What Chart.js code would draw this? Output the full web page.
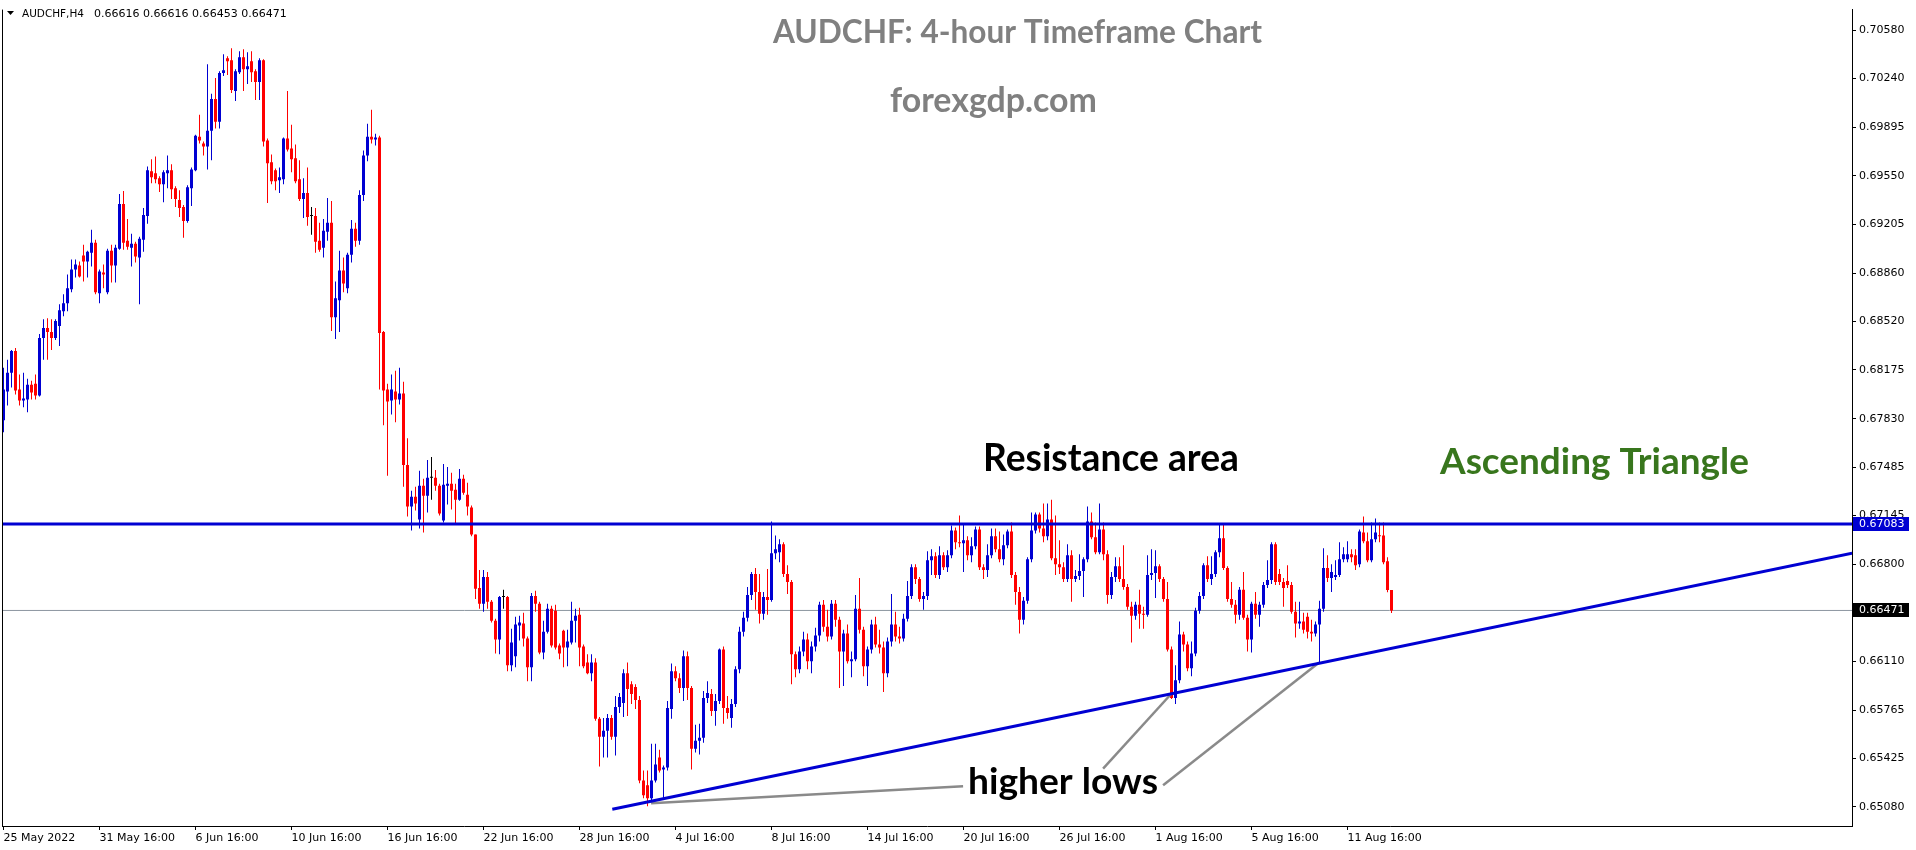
<!DOCTYPE html>
<html>
<head>
<meta charset="utf-8">
<title>AUDCHF H4</title>
<script src="https://cdn.jsdelivr.net/npm/chart.js@4.4.0/dist/chart.umd.min.js"></script>
<style>
  html, body { margin: 0; padding: 0; background: #fff; }
  #wrap { position: relative; width: 1916px; height: 850px; }
</style>
</head>
<body>
<div id="wrap"><canvas id="myChart"></canvas></div>
<script>
'use strict';

//Chart data (H4 candles)
var symbol = 'AUDCHF,H4';

var opens = [
  0.67818, 0.68022, 0.68156, 0.68310, 0.68036, 0.67959, 0.67966, 0.68071, 0.68078, 0.67994, 0.68402, 0.68472,
  0.68444, 0.68402, 0.68486, 0.68591, 0.68648, 0.68746, 0.68887, 0.68915, 0.68985, 0.68943, 0.69006, 0.69076,
  0.68718, 0.68865, 0.68725, 0.69020, 0.68915, 0.69034, 0.69350, 0.69090, 0.69041, 0.69069, 0.68971, 0.69097,
  0.69266, 0.69582, 0.69568, 0.69533, 0.69491, 0.69568, 0.69589, 0.69463, 0.69379, 0.69329, 0.69231, 0.69463,
  0.69589, 0.69828, 0.69779, 0.69758, 0.69870, 0.70095, 0.69934, 0.70278, 0.70384, 0.70369, 0.70152, 0.70285,
  0.70391, 0.70306, 0.70362, 0.70292, 0.70215, 0.70369, 0.69800, 0.69646, 0.69589, 0.69519, 0.69526, 0.69814,
  0.69744, 0.69674, 0.69526, 0.69386, 0.69428, 0.69266, 0.69266, 0.69090, 0.69041, 0.69154, 0.69217, 0.68549,
  0.68669, 0.68880, 0.68753, 0.68992, 0.69175, 0.69090, 0.69414, 0.69695, 0.69828, 0.69807, 0.69821, 0.68444,
  0.68036, 0.67959, 0.68022, 0.67966, 0.68008, 0.67502, 0.67207, 0.67277, 0.67116, 0.67354, 0.67284, 0.67411,
  0.67411, 0.67354, 0.67108, 0.67354, 0.67369, 0.67326, 0.67256, 0.67404, 0.67291, 0.67200, 0.67010, 0.66631,
  0.66518, 0.66708, 0.66532, 0.66399, 0.66265, 0.66567, 0.66567, 0.66082, 0.66146, 0.66364, 0.66378, 0.66272,
  0.66068, 0.66574, 0.66518, 0.66174, 0.66321, 0.66483, 0.66469, 0.66223, 0.66328, 0.66209, 0.66244, 0.66399,
  0.66441, 0.66216, 0.66103, 0.66026, 0.66103, 0.65703, 0.65576, 0.65619, 0.65710, 0.65576, 0.65787, 0.65815,
  0.66026, 0.65949, 0.65928, 0.65836, 0.65267, 0.65232, 0.65141, 0.65267, 0.65429, 0.65344, 0.65359, 0.65773,
  0.66040, 0.65991, 0.65921, 0.66146, 0.65921, 0.65492, 0.65548, 0.65569, 0.65850, 0.65879, 0.65759, 0.65829,
  0.66195, 0.65780, 0.65710, 0.65808, 0.66054, 0.66321, 0.66420, 0.66581, 0.66729, 0.66602, 0.66448, 0.66567,
  0.66546, 0.66877, 0.66884, 0.66940, 0.66729, 0.66673, 0.66160, 0.66054, 0.66181, 0.66265, 0.66111, 0.66216,
  0.66293, 0.66511, 0.66356, 0.66286, 0.66518, 0.66406, 0.66181, 0.66307, 0.66111, 0.66125, 0.66483, 0.66335,
  0.66075, 0.66195, 0.66371, 0.66230, 0.66209, 0.66026, 0.66251, 0.66371, 0.66286, 0.66272, 0.66413, 0.66574,
  0.66778, 0.66694, 0.66553, 0.66574, 0.66827, 0.66855, 0.66722, 0.66863, 0.66778, 0.66863, 0.67038, 0.66954,
  0.66947, 0.66968, 0.66863, 0.66926, 0.67045, 0.66778, 0.66757, 0.66863, 0.66996, 0.66905, 0.66834, 0.66933,
  0.67031, 0.66722, 0.66602, 0.66406, 0.66539, 0.66834, 0.67038, 0.67151, 0.67052, 0.66996, 0.67116, 0.66841,
  0.66799, 0.66778, 0.66694, 0.66863, 0.66694, 0.66715, 0.66750, 0.66834, 0.67101, 0.66989, 0.66884, 0.67045,
  0.66870, 0.66581, 0.66708, 0.66785, 0.66694, 0.66638, 0.66497, 0.66434, 0.66511, 0.66448, 0.66441, 0.66722,
  0.66736, 0.66785, 0.66694, 0.66553, 0.66195, 0.65850, 0.65977, 0.66300, 0.66230, 0.66061, 0.66167, 0.66469,
  0.66574, 0.66792, 0.66694, 0.66729, 0.66884, 0.66982, 0.66771, 0.66553, 0.66511, 0.66441, 0.66617, 0.66420,
  0.66265, 0.66518, 0.66441, 0.66511, 0.66652, 0.66687, 0.66940, 0.66729, 0.66673, 0.66680, 0.66652, 0.66462,
  0.66378, 0.66392, 0.66427, 0.66321, 0.66307, 0.66371, 0.66483, 0.66771, 0.66701, 0.66708, 0.66722, 0.66834,
  0.66834, 0.66870, 0.66863, 0.66799, 0.67024, 0.66961, 0.66827, 0.66975, 0.67003, 0.67003, 0.66820, 0.66616
];

var highs = [
  0.68191, 0.68247, 0.68317, 0.68331, 0.68142, 0.68156, 0.68113, 0.68099, 0.68142, 0.68430, 0.68535, 0.68542,
  0.68535, 0.68535, 0.68641, 0.68711, 0.68851, 0.68957, 0.68957, 0.68943, 0.69062, 0.69020, 0.69168, 0.69097,
  0.68887, 0.68922, 0.69034, 0.69062, 0.69062, 0.69421, 0.69442, 0.69245, 0.69140, 0.69083, 0.69119, 0.69322,
  0.69617, 0.69667, 0.69688, 0.69547, 0.69589, 0.69695, 0.69632, 0.69477, 0.69449, 0.69343, 0.69484, 0.69610,
  0.69842, 0.69983, 0.69793, 0.70341, 0.70131, 0.70243, 0.70292, 0.70412, 0.70398, 0.70454, 0.70306, 0.70433,
  0.70447, 0.70426, 0.70433, 0.70306, 0.70384, 0.70377, 0.69814, 0.69702, 0.69603, 0.69610, 0.69821, 0.70152,
  0.69913, 0.69772, 0.69660, 0.69533, 0.69610, 0.69329, 0.69322, 0.69217, 0.69245, 0.69393, 0.69372, 0.68802,
  0.69020, 0.68971, 0.69006, 0.69238, 0.69217, 0.69449, 0.69730, 0.69920, 0.70018, 0.69849, 0.69835, 0.68451,
  0.68078, 0.68142, 0.68170, 0.68191, 0.68092, 0.67692, 0.67319, 0.67347, 0.67460, 0.67404, 0.67537, 0.67558,
  0.67467, 0.67369, 0.67509, 0.67488, 0.67446, 0.67369, 0.67474, 0.67432, 0.67376, 0.67214, 0.67010, 0.66757,
  0.66757, 0.66743, 0.66546, 0.66413, 0.66574, 0.66617, 0.66574, 0.66342, 0.66427, 0.66434, 0.66455, 0.66286,
  0.66595, 0.66610, 0.66532, 0.66399, 0.66518, 0.66504, 0.66511, 0.66237, 0.66335, 0.66335, 0.66532, 0.66483,
  0.66490, 0.66230, 0.66160, 0.66160, 0.66132, 0.65717, 0.65710, 0.65738, 0.65731, 0.65865, 0.65886, 0.66054,
  0.66103, 0.65970, 0.65949, 0.65865, 0.65337, 0.65337, 0.65527, 0.65527, 0.65485, 0.65373, 0.65829, 0.66096,
  0.66075, 0.66026, 0.66188, 0.66181, 0.65935, 0.65661, 0.65668, 0.65900, 0.65970, 0.65914, 0.65879, 0.66202,
  0.66216, 0.65865, 0.65843, 0.66075, 0.66356, 0.66462, 0.66638, 0.66743, 0.66771, 0.66729, 0.66602, 0.66764,
  0.67101, 0.67003, 0.66975, 0.66954, 0.66792, 0.66687, 0.66181, 0.66216, 0.66321, 0.66307, 0.66251, 0.66349,
  0.66532, 0.66546, 0.66476, 0.66546, 0.66546, 0.66427, 0.66335, 0.66371, 0.66181, 0.66581, 0.66701, 0.66356,
  0.66216, 0.66406, 0.66427, 0.66335, 0.66251, 0.66279, 0.66588, 0.66462, 0.66356, 0.66448, 0.66680, 0.66799,
  0.66799, 0.66708, 0.66602, 0.66891, 0.66905, 0.66884, 0.66926, 0.66884, 0.66898, 0.67073, 0.67059, 0.67144,
  0.67087, 0.66996, 0.66989, 0.67066, 0.67066, 0.66799, 0.66940, 0.67052, 0.67052, 0.67031, 0.67010, 0.67045,
  0.67094, 0.66743, 0.66638, 0.66567, 0.66848, 0.67165, 0.67165, 0.67165, 0.67228, 0.67228, 0.67256, 0.67144,
  0.66968, 0.66813, 0.66940, 0.66898, 0.66757, 0.66870, 0.66848, 0.67207, 0.67165, 0.67094, 0.67228, 0.67094,
  0.66898, 0.66743, 0.66848, 0.66848, 0.66933, 0.66659, 0.66532, 0.66532, 0.66617, 0.66497, 0.66863, 0.66905,
  0.66898, 0.66799, 0.66708, 0.66673, 0.66216, 0.66082, 0.66392, 0.66321, 0.66251, 0.66251, 0.66490, 0.66602,
  0.66806, 0.66855, 0.66855, 0.66898, 0.67087, 0.67080, 0.66785, 0.66673, 0.66546, 0.66638, 0.66743, 0.66441,
  0.66532, 0.66602, 0.66532, 0.66673, 0.66827, 0.66954, 0.66954, 0.66764, 0.66701, 0.66792, 0.66673, 0.66532,
  0.66532, 0.66455, 0.66455, 0.66406, 0.66392, 0.66539, 0.66912, 0.66863, 0.66799, 0.66827, 0.66954, 0.66919,
  0.66961, 0.66905, 0.66905, 0.67045, 0.67137, 0.67024, 0.67094, 0.67123, 0.67094, 0.67094, 0.66848, 0.66616
];

var lows = [
  0.67734, 0.67924, 0.68050, 0.68001, 0.67924, 0.67910, 0.67875, 0.67966, 0.67966, 0.67987, 0.68247, 0.68247,
  0.68317, 0.68388, 0.68345, 0.68556, 0.68591, 0.68725, 0.68830, 0.68830, 0.68802, 0.68830, 0.68908, 0.68711,
  0.68648, 0.68753, 0.68711, 0.68795, 0.68795, 0.69027, 0.69027, 0.69027, 0.68908, 0.68936, 0.68641, 0.69013,
  0.69210, 0.69498, 0.69498, 0.69435, 0.69364, 0.69463, 0.69386, 0.69329, 0.69259, 0.69111, 0.69217, 0.69336,
  0.69582, 0.69779, 0.69695, 0.69596, 0.69660, 0.69885, 0.69885, 0.70257, 0.70264, 0.70138, 0.70081, 0.70271,
  0.70152, 0.70201, 0.70215, 0.70088, 0.70088, 0.69758, 0.69357, 0.69491, 0.69449, 0.69428, 0.69491, 0.69723,
  0.69575, 0.69498, 0.69372, 0.69252, 0.69196, 0.69133, 0.69006, 0.69013, 0.68971, 0.69090, 0.68451, 0.68395,
  0.68444, 0.68725, 0.68718, 0.68936, 0.69048, 0.69062, 0.69372, 0.69653, 0.69779, 0.69765, 0.68036, 0.67783,
  0.67425, 0.67860, 0.67804, 0.67931, 0.67347, 0.67137, 0.67038, 0.67179, 0.67052, 0.67024, 0.67165, 0.67256,
  0.67319, 0.67144, 0.67094, 0.67221, 0.67186, 0.67087, 0.67249, 0.67291, 0.67144, 0.66996, 0.66553, 0.66483,
  0.66462, 0.66483, 0.66385, 0.66167, 0.66160, 0.66483, 0.66040, 0.66040, 0.66068, 0.66258, 0.66216, 0.65970,
  0.65970, 0.66462, 0.66160, 0.66125, 0.66307, 0.66209, 0.66195, 0.66125, 0.66068, 0.66075, 0.66230, 0.66244,
  0.66075, 0.66061, 0.66019, 0.65970, 0.65689, 0.65366, 0.65429, 0.65429, 0.65555, 0.65443, 0.65745, 0.65717,
  0.65724, 0.65808, 0.65773, 0.65246, 0.65141, 0.65084, 0.65127, 0.65253, 0.65323, 0.65141, 0.65337, 0.65703,
  0.65970, 0.65886, 0.65829, 0.65836, 0.65344, 0.65464, 0.65450, 0.65534, 0.65815, 0.65724, 0.65654, 0.65808,
  0.65668, 0.65703, 0.65640, 0.65787, 0.66026, 0.66286, 0.66392, 0.66546, 0.66476, 0.66378, 0.66406, 0.66441,
  0.66532, 0.66834, 0.66813, 0.66708, 0.66588, 0.65949, 0.65998, 0.66026, 0.66146, 0.66054, 0.66026, 0.66181,
  0.66251, 0.66321, 0.66251, 0.66265, 0.66356, 0.65921, 0.65935, 0.66096, 0.65998, 0.66111, 0.66307, 0.66005,
  0.65935, 0.66167, 0.66209, 0.66167, 0.65893, 0.65998, 0.66216, 0.66251, 0.66237, 0.66251, 0.66392, 0.66553,
  0.66659, 0.66532, 0.66476, 0.66546, 0.66722, 0.66701, 0.66694, 0.66757, 0.66743, 0.66841, 0.66905, 0.66919,
  0.66743, 0.66827, 0.66813, 0.66905, 0.66757, 0.66694, 0.66708, 0.66841, 0.66884, 0.66813, 0.66792, 0.66912,
  0.66701, 0.66511, 0.66307, 0.66371, 0.66518, 0.66813, 0.67017, 0.67024, 0.66954, 0.66968, 0.66827, 0.66722,
  0.66729, 0.66673, 0.66673, 0.66532, 0.66673, 0.66687, 0.66567, 0.66813, 0.66975, 0.66870, 0.66870, 0.66827,
  0.66518, 0.66553, 0.66673, 0.66673, 0.66617, 0.66476, 0.66244, 0.66406, 0.66342, 0.66342, 0.66427, 0.66687,
  0.66560, 0.66673, 0.66532, 0.66181, 0.65843, 0.65808, 0.65956, 0.66181, 0.66040, 0.66005, 0.66146, 0.66448,
  0.66553, 0.66673, 0.66652, 0.66708, 0.66848, 0.66757, 0.66532, 0.66490, 0.66378, 0.66406, 0.66406, 0.66181,
  0.66174, 0.66413, 0.66356, 0.66490, 0.66631, 0.66659, 0.66652, 0.66652, 0.66497, 0.66631, 0.66448, 0.66279,
  0.66342, 0.66307, 0.66272, 0.66251, 0.66286, 0.66096, 0.66462, 0.66673, 0.66602, 0.66687, 0.66708, 0.66813,
  0.66813, 0.66813, 0.66757, 0.66778, 0.66947, 0.66813, 0.66813, 0.66954, 0.66954, 0.66799, 0.66600, 0.66453
];

var closes = [
  0.68036, 0.68156, 0.68310, 0.68029, 0.67959, 0.67973, 0.68071, 0.68015, 0.67994, 0.68402, 0.68472, 0.68444,
  0.68402, 0.68521, 0.68598, 0.68648, 0.68753, 0.68887, 0.68922, 0.68837, 0.68943, 0.69013, 0.69076, 0.68725,
  0.68873, 0.68851, 0.69020, 0.68915, 0.69041, 0.69350, 0.69076, 0.69048, 0.69069, 0.68978, 0.69104, 0.69273,
  0.69589, 0.69540, 0.69526, 0.69491, 0.69575, 0.69589, 0.69456, 0.69386, 0.69322, 0.69231, 0.69470, 0.69596,
  0.69835, 0.69800, 0.69758, 0.69870, 0.70095, 0.69934, 0.70278, 0.70299, 0.70362, 0.70159, 0.70292, 0.70391,
  0.70306, 0.70327, 0.70285, 0.70215, 0.70369, 0.69793, 0.69639, 0.69512, 0.69512, 0.69540, 0.69814, 0.69737,
  0.69667, 0.69512, 0.69386, 0.69428, 0.69259, 0.69266, 0.69083, 0.69027, 0.69161, 0.69217, 0.68549, 0.68683,
  0.68880, 0.68788, 0.68992, 0.69175, 0.69090, 0.69414, 0.69695, 0.69828, 0.69807, 0.69821, 0.68437, 0.68029,
  0.67952, 0.68036, 0.67966, 0.68008, 0.67502, 0.67207, 0.67277, 0.67228, 0.67354, 0.67284, 0.67411, 0.67411,
  0.67354, 0.67158, 0.67362, 0.67369, 0.67319, 0.67256, 0.67404, 0.67305, 0.67207, 0.67010, 0.66624, 0.66518,
  0.66708, 0.66532, 0.66399, 0.66265, 0.66567, 0.66567, 0.66082, 0.66244, 0.66371, 0.66385, 0.66272, 0.66068,
  0.66574, 0.66518, 0.66174, 0.66321, 0.66483, 0.66223, 0.66209, 0.66167, 0.66209, 0.66251, 0.66399, 0.66434,
  0.66209, 0.66075, 0.66026, 0.66103, 0.65703, 0.65576, 0.65619, 0.65710, 0.65576, 0.65787, 0.65858, 0.66026,
  0.65914, 0.65879, 0.65836, 0.65267, 0.65162, 0.65141, 0.65267, 0.65380, 0.65337, 0.65359, 0.65780, 0.66040,
  0.65991, 0.65921, 0.66146, 0.65921, 0.65492, 0.65548, 0.65569, 0.65850, 0.65886, 0.65759, 0.65829, 0.66195,
  0.65780, 0.65745, 0.65808, 0.66054, 0.66321, 0.66420, 0.66581, 0.66729, 0.66602, 0.66448, 0.66567, 0.66546,
  0.66877, 0.66905, 0.66940, 0.66729, 0.66673, 0.66160, 0.66054, 0.66181, 0.66265, 0.66111, 0.66216, 0.66293,
  0.66511, 0.66356, 0.66286, 0.66518, 0.66406, 0.66181, 0.66307, 0.66111, 0.66125, 0.66483, 0.66335, 0.66075,
  0.66195, 0.66371, 0.66230, 0.66209, 0.66026, 0.66251, 0.66371, 0.66286, 0.66272, 0.66413, 0.66574, 0.66778,
  0.66694, 0.66553, 0.66574, 0.66827, 0.66855, 0.66722, 0.66863, 0.66778, 0.66863, 0.67038, 0.66954, 0.66947,
  0.66968, 0.66863, 0.66926, 0.67045, 0.66778, 0.66757, 0.66863, 0.66996, 0.66905, 0.66834, 0.66933, 0.67031,
  0.66722, 0.66602, 0.66406, 0.66539, 0.66834, 0.67038, 0.67151, 0.67052, 0.66996, 0.67116, 0.66841, 0.66799,
  0.66778, 0.66694, 0.66863, 0.66694, 0.66715, 0.66750, 0.66834, 0.67101, 0.66989, 0.66884, 0.67045, 0.66870,
  0.66581, 0.66708, 0.66785, 0.66694, 0.66638, 0.66497, 0.66434, 0.66511, 0.66448, 0.66441, 0.66722, 0.66736,
  0.66785, 0.66694, 0.66553, 0.66195, 0.65850, 0.65977, 0.66300, 0.66230, 0.66061, 0.66167, 0.66469, 0.66574,
  0.66792, 0.66694, 0.66729, 0.66884, 0.66982, 0.66771, 0.66553, 0.66511, 0.66441, 0.66617, 0.66420, 0.66265,
  0.66518, 0.66441, 0.66511, 0.66652, 0.66687, 0.66940, 0.66673, 0.66673, 0.66631, 0.66652, 0.66462, 0.66378,
  0.66392, 0.66335, 0.66321, 0.66307, 0.66371, 0.66483, 0.66771, 0.66701, 0.66743, 0.66722, 0.66834, 0.66870,
  0.66870, 0.66848, 0.66792, 0.67031, 0.66961, 0.66827, 0.66975, 0.67024, 0.66996, 0.66813, 0.66616, 0.66471
];

//Time axis: one label every 24 bars (4 trading days of H4)
var dateLabels = ['25 May 2022', '31 May 16:00', '6 Jun 16:00', '10 Jun 16:00', '16 Jun 16:00', '22 Jun 16:00',
  '28 Jun 16:00', '4 Jul 16:00', '8 Jul 16:00', '14 Jul 16:00', '20 Jul 16:00', '26 Jul 16:00',
  '1 Aug 16:00', '5 Aug 16:00', '11 Aug 16:00'];
var barsPerLabel = 24;

//Price axis labels
var priceTicks = [0.70580, 0.70240, 0.69895, 0.69550, 0.69205, 0.68860, 0.68520, 0.68175, 0.67830,
  0.67485, 0.67145, 0.66800, 0.66455, 0.66110, 0.65765, 0.65425, 0.65080];
var priceMin = 0.64944;
var priceMax = 0.70728;

//Drawn objects (bar index, price)
var resistanceLevel = 0.67083;
var supportLine = [[152.2, 0.65063], [462.15, 0.66877]];
var higherLowPointers = [
  [[161.9, 0.65106], [239.9, 0.65225]],
  [[291.9, 0.65879], [274.9, 0.65351]],
  [[328.9, 0.66103], [289.9, 0.65232]]
];

//Colours
var BLUE = '#0000d2';
var RED = '#ff0000';
var GREEN = '#38761d';
var GREY = '#808080';

var xMin = -0.375;
var xMax = 462.125;

//Build the candle pieces
var wicks = [];
var bodies = [];
var candleColors = [];
for (var i = 0; i < closes.length; i++) {
  wicks.push({ x: i, y: [lows[i], highs[i]] });
  bodies.push({ x: i, y: [Math.min(opens[i], closes[i]), Math.max(opens[i], closes[i])] });
  if (closes[i] > opens[i]) {
    candleColors.push(BLUE);
  } else if (closes[i] < opens[i]) {
    candleColors.push(RED);
  } else {
    candleColors.push('#000');
  }
}

function toPoints(pairs) {
  return pairs.map(function (p) { return { x: p[0], y: p[1] }; });
}

function lineSet(points, color, width, order) {
  return {
    type: 'line',
    data: points,
    borderColor: color,
    borderWidth: width,
    pointRadius: 0,
    fill: false,
    tension: 0,
    order: order
  };
}

var last = closes.length - 1;

var datasets = [
  lineSet(toPoints([[xMin, resistanceLevel], [xMax, resistanceLevel]]), BLUE, 3, 0),
  lineSet(toPoints(supportLine), BLUE, 3, 0),
  lineSet(toPoints([[xMin, closes[last]], [xMax, closes[last]]]), '#8c96a0', 1, 5)
];
higherLowPointers.forEach(function (seg) {
  datasets.push(lineSet(toPoints(seg), '#8a8a8a', 2.5, 0));
});
datasets.push({
  type: 'bar', data: bodies, backgroundColor: candleColors, barThickness: 3,
  grouped: false, minBarLength: 1, borderWidth: 0, inflateAmount: 0, order: 2
});
datasets.push({
  type: 'bar', data: wicks, backgroundColor: candleColors, barThickness: 1,
  grouped: false, borderWidth: 0, inflateAmount: 0, order: 3
});

//Texts on the chart
var chartTexts = [
  { text: 'AUDCHF: 4-hour Timeframe Chart', color: GREY, left: 773, right: 1262, base: 43 },
  { text: 'forexgdp.com', color: GREY, left: 890, right: 1097, base: 112 },
  { text: 'Resistance area', color: '#000', left: 983, right: 1239, base: 471 },
  { text: 'Ascending Triangle', color: GREEN, left: 1440, right: 1749, base: 474 },
  { text: 'higher lows', color: '#000', left: 968, right: 1158, base: 794 }
];

//draw text so that it fills the span left..right
function fitText(c, text, weight, family, left, right, base, color) {
  c.font = weight + ' 100px ' + family;
  var w = c.measureText(text).width;
  var size = 100 * (right - left) / w;
  c.font = weight + ' ' + size.toFixed(2) + 'px ' + family;
  c.fillStyle = color;
  c.textAlign = 'left';
  c.textBaseline = 'alphabetic';
  c.fillText(text, left, base);
}

function priceTag(c, value, color, x, yScale) {
  var y = Math.round(yScale.getPixelForValue(value));
  c.fillStyle = color;
  c.fillRect(x + 1, y - 7, 56, 14);
  c.fillStyle = '#fff';
  c.font = '11px "DejaVu Sans"';
  c.textAlign = 'left';
  c.textBaseline = 'middle';
  c.fillText(value.toFixed(5), x + 7, y + 0.5);
}

var overlay = {
  id: 'overlay',
  afterDraw: function (chart) {
    var c = chart.ctx;
    var area = chart.chartArea;
    c.save();
    //left frame line
    c.fillStyle = '#000';
    c.fillRect(area.left, area.top, 1, area.bottom - area.top);

    priceTag(c, resistanceLevel, BLUE, area.right, chart.scales.y);
    priceTag(c, closes[last], '#000', area.right, chart.scales.y);

    //header with symbol and last OHLC
    c.fillStyle = '#000';
    c.beginPath();
    c.moveTo(7, 11);
    c.lineTo(14, 11);
    c.lineTo(10.5, 15);
    c.closePath();
    c.fill();
    var ohlc = [opens[last], highs[last], lows[last], closes[last]].map(function (v) { return v.toFixed(5); }).join(' ');
    fitText(c, symbol, 'normal', '"DejaVu Sans"', 22, 84, 17, '#000');
    fitText(c, ohlc, 'normal', '"DejaVu Sans"', 94, 287, 17, '#000');

    chartTexts.forEach(function (t) {
      fitText(c, t.text, 'bold', 'Lato', t.left, t.right, t.base, t.color);
    });

    if (opens.length !== closes.length || highs.length !== closes.length || lows.length !== closes.length) {
      c.fillStyle = 'red';
      c.fillText('length mismatch', 20, 200);
    }
    c.restore();
  }
};

Chart.defaults.font.family = '"DejaVu Sans"';
Chart.defaults.font.size = 11;
Chart.defaults.color = '#000';

var ctx = document.getElementById('myChart').getContext('2d');
var chart = new Chart(ctx, {
  type: 'bar',
  data: { datasets: datasets },
  options: {
    responsive: true,
    maintainAspectRatio: false,
    animation: false,
    events: [],
    layout: { padding: { left: 2, top: 3, right: 0, bottom: 0 } },
    plugins: {
      legend: { display: false },
      tooltip: { enabled: false }
    },
    scales: {
      x: {
        type: 'linear',
        min: xMin,
        max: xMax,
        offset: false,
        grid: { display: true, drawOnChartArea: false, drawTicks: true, tickLength: 4, color: '#000', offset: false },
        border: { display: true, color: '#000', width: 1 },
        afterBuildTicks: function (scale) {
          scale.ticks = dateLabels.map(function (d, i) { return { value: i * barsPerLabel }; });
        },
        afterFit: function (scale) { scale.height = 24; },
        ticks: {
          callback: function (v, i) { return dateLabels[i]; },
          align: 'start',
          maxRotation: 0,
          minRotation: 0,
          autoSkip: false,
          padding: 2,
          color: '#000'
        }
      },
      y: {
        position: 'right',
        min: priceMin,
        max: priceMax,
        grid: { display: true, drawOnChartArea: false, drawTicks: true, tickLength: 4, color: '#000' },
        border: { display: true, color: '#000', width: 1 },
        afterBuildTicks: function (scale) {
          scale.ticks = priceTicks.map(function (v) { return { value: v }; });
        },
        afterFit: function (scale) { scale.width = 64; },
        ticks: {
          callback: function (v) { return v.toFixed(5); },
          autoSkip: false,
          padding: 3,
          color: '#000'
        }
      }
    }
  },
  plugins: [overlay]
});
</script>
</body>
</html>
